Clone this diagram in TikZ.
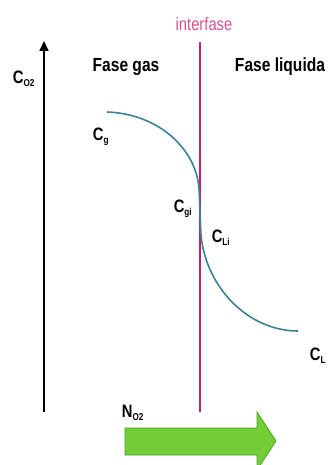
\documentclass[tikz,border=0pt]{standalone}
\usepackage{fontspec}
\setmainfont{Liberation Sans}[FakeStretch=0.82]
\usetikzlibrary{arrows.meta}
\definecolor{curvecol}{RGB}{60,130,150}
\definecolor{ifline}{RGB}{200,30,110}
\definecolor{iftext}{RGB}{215,80,150}
\definecolor{arrowfill}{RGB}{115,205,55}
\definecolor{arrowedge}{RGB}{80,160,40}
\newcommand{\sbs}[1]{\textsubscript{\fontsize{10}{10}\selectfont #1}}
\tikzset{
  lbl/.style={font=\fontsize{19}{19}\selectfont\bfseries, inner sep=0pt},
  conc/.style={font=\fontsize{18}{18}\selectfont\bfseries, inner sep=0pt},
}
\begin{document}
\begin{tikzpicture}[x=1pt,y=-1pt]
\useasboundingbox (0,0) rectangle (331,465);
% axis
\coordinate (ab) at (44,412);
\coordinate (at) at (44,41);
\draw[line width=1.7pt,-{Triangle[length=10pt,width=9pt]}] (ab) -- (at);
\node[conc] (co2) at (24,79) {C\sbs{O2}};
% interface
\coordinate (it) at (200,42);
\coordinate (ib) at (200,412);
\draw[ifline, line width=1.6pt] (it) -- (ib);
\node[font=\fontsize{18}{18}\selectfont, text=iftext, inner sep=0pt] (itxt) at (204,24) {interfase};
% phase labels
\node[lbl] (fg) at (126,67) {Fase gas};
\node[lbl] (fl) at (280,67) {Fase liquida};
% curve
\coordinate (p0) at (107,112);
\coordinate (p1) at (199,188);
\coordinate (p2) at (201,236);
\coordinate (p3) at (298,331);
\draw[curvecol, line width=1.6pt] (p0) .. controls (160,114) and (196,150) .. (p1)
  -- (p2) .. controls (207,290) and (250,331) .. (p3);
% concentration labels
\node[conc] (cg) at (101,137) {C\sbs{g}};
\node[conc] (cgi) at (183,209) {C\sbs{gi}};
\node[conc] (cli) at (221,238) {C\sbs{Li}};
\node[conc] (cl) at (318,356) {C\sbs{L}};
% flux
\node[conc] (no2) at (133,413) {N\sbs{O2}};
\draw[arrowedge, fill=arrowfill, line width=0.8pt]
  (125,428) -- (257,428) -- (257,412) -- (276,441) -- (257,470) -- (257,455) -- (125,455) -- cycle;
\end{tikzpicture}
\end{document}
